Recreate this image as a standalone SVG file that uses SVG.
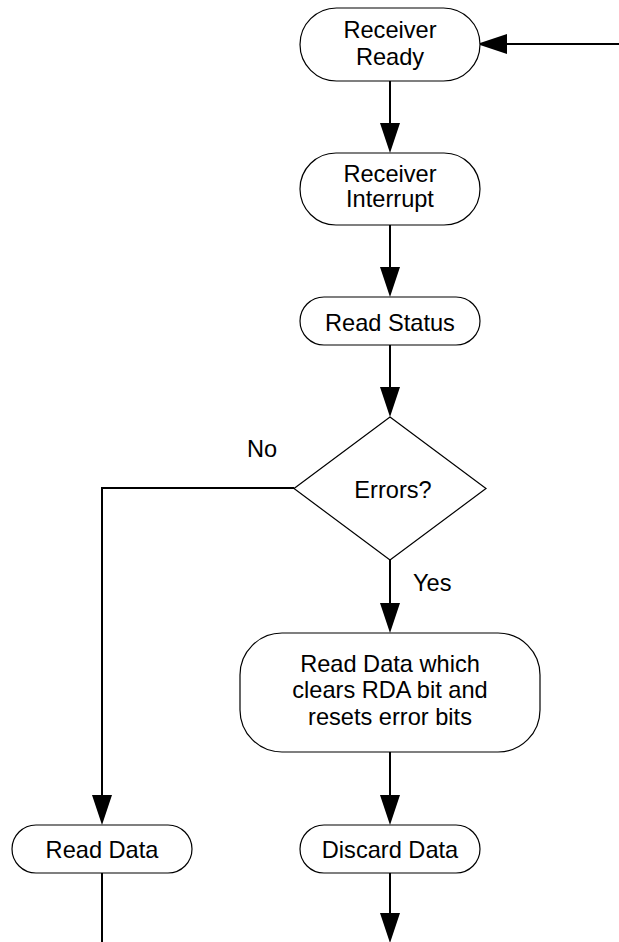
<svg xmlns="http://www.w3.org/2000/svg" width="619" height="942" viewBox="0 0 619 942">
<style>
.n{fill:#fff;stroke:#000;stroke-width:1.2}
.t{font-family:"Liberation Sans",Arial,sans-serif;font-size:23.6px;fill:#000;text-anchor:middle}
.l{font-family:"Liberation Sans",Arial,sans-serif;font-size:23.6px;fill:#000}
.c{fill:none;stroke:#000;stroke-width:2}
</style>
<defs>
<marker id="ah" viewBox="0 0 30 20" refX="10" refY="10" markerWidth="30" markerHeight="20" markerUnits="userSpaceOnUse" orient="auto">
<path d="M0,0 L30,10 L0,20 z" fill="#000"/>
</marker>
</defs>
<rect width="619" height="942" fill="#fff"/>
<g id="connectors">
<path class="c" d="M619,44 H497" marker-end="url(#ah)"/>
<path class="c" d="M390,81 V133" marker-end="url(#ah)"/>
<path class="c" d="M390,225 V277" marker-end="url(#ah)"/>
<path class="c" d="M390,345 V397" marker-end="url(#ah)"/>
<path class="c" d="M390,560 V613" marker-end="url(#ah)"/>
<path class="c" d="M390,752 V805" marker-end="url(#ah)"/>
<path class="c" d="M390,873 V923" marker-end="url(#ah)"/>
<path class="c" d="M294,488 H102 V805" marker-end="url(#ah)"/>
<path class="c" d="M102,873 V942"/>
</g>
<g id="receiver-ready">
<rect class="n" x="300" y="8" width="180" height="73" rx="36.5"/>
<text class="t" x="390" y="38">Receiver</text>
<text class="t" x="390" y="64.5">Ready</text>
</g>
<g id="receiver-interrupt">
<rect class="n" x="300" y="153" width="180" height="72" rx="36"/>
<text class="t" x="390" y="182">Receiver</text>
<text class="t" x="390" y="207">Interrupt</text>
</g>
<g id="read-status">
<rect class="n" x="300" y="297" width="180" height="48" rx="24"/>
<text class="t" x="390" y="331">Read Status</text>
</g>
<g id="errors">
<polygon class="n" points="390,417 486,488.5 390,560 294,488.5"/>
<text class="t" x="393" y="498">Errors?</text>
</g>
<g id="label-no"><text class="l" x="247" y="457">No</text></g>
<g id="label-yes"><text class="l" x="413" y="591">Yes</text></g>
<g id="read-data-clear">
<rect class="n" x="240" y="633" width="300" height="119" rx="42"/>
<text class="t" x="390" y="672">Read Data which</text>
<text class="t" x="390" y="698">clears RDA bit and</text>
<text class="t" x="390" y="724.5">resets error bits</text>
</g>
<g id="read-data">
<rect class="n" x="12" y="825" width="180" height="48" rx="24"/>
<text class="t" x="102" y="858">Read Data</text>
</g>
<g id="discard-data">
<rect class="n" x="300" y="825" width="180" height="48" rx="24"/>
<text class="t" x="390" y="858">Discard Data</text>
</g>
</svg>
